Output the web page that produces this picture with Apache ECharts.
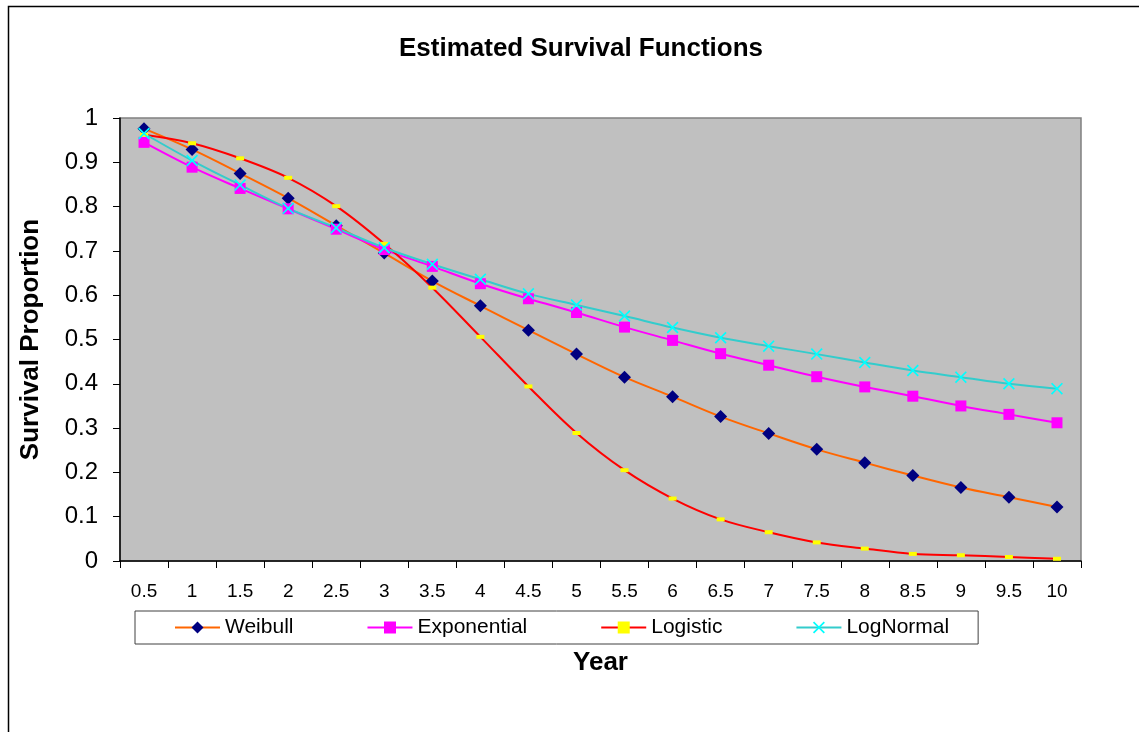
<!DOCTYPE html>
<html>
<head>
<meta charset="utf-8">
<title>Estimated Survival Functions</title>
<script src="https://cdn.jsdelivr.net/npm/echarts@6/dist/echarts.min.js"></script>
<style>
  html, body { margin: 0; padding: 0; background: #ffffff; }
  #chart { width: 1139px; height: 732px; }
</style>
</head>
<body>
<div id="chart"></div>
<script>
// Survival time points (years)
const years = ['0.5', '1', '1.5', '2', '2.5', '3', '3.5', '4', '4.5', '5',
               '5.5', '6', '6.5', '7', '7.5', '8', '8.5', '9', '9.5', '10'];

// Estimated survival proportion for each fitted model
const weibull = [0.976, 0.929, 0.875, 0.819, 0.757, 0.695, 0.632, 0.576, 0.521, 0.467,
                 0.415, 0.371, 0.326, 0.288, 0.252, 0.222, 0.193, 0.166, 0.144, 0.122];
const exponential = [0.945, 0.889, 0.841, 0.795, 0.749, 0.703, 0.665, 0.626, 0.592, 0.561,
                     0.528, 0.498, 0.468, 0.442, 0.416, 0.393, 0.372, 0.350, 0.331, 0.312];
const logistic = [0.962, 0.943, 0.909, 0.865, 0.801, 0.716, 0.617, 0.506, 0.394, 0.289,
                  0.205, 0.141, 0.094, 0.065, 0.042, 0.028, 0.016, 0.013, 0.009, 0.005];
const lognormal = [0.965, 0.904, 0.849, 0.796, 0.752, 0.707, 0.670, 0.636, 0.603, 0.578,
                   0.553, 0.527, 0.504, 0.485, 0.467, 0.448, 0.430, 0.415, 0.400, 0.389];

const FONT = '"Liberation Sans", Arial, sans-serif';
// filled "x" cross shape
const CROSS = 'path://M0,1L1,0L5,4L9,0L10,1L6,5L10,9L9,10L5,6L1,10L0,9L4,5Z';

const chart = echarts.init(document.getElementById('chart'), null, { renderer: 'canvas' });

function lineSeries(name, data, lineColor, symbol, symbolSize, markColor) {
  return {
    name: name,
    type: 'line',
    data: data,
    smooth: 0.35,
    symbol: symbol,
    symbolSize: symbolSize,
    showAllSymbol: true,
    lineStyle: { color: lineColor, width: 2 },
    itemStyle: { color: markColor, borderWidth: 0 },
    emphasis: { disabled: true },
    animation: false
  };
}

chart.setOption({
  animation: false,
  backgroundColor: '#ffffff',
  textStyle: { fontFamily: FONT },
  title: {
    text: 'Estimated Survival Functions',
    left: 576,
    textAlign: 'center',
    top: 31,
    textStyle: { fontFamily: FONT, fontSize: 26, fontWeight: 'bold', color: '#000' }
  },
  graphic: [{
    type: 'rect',
    shape: { x: 8.5, y: 6.5, width: 1200, height: 800 },
    style: { fill: 'none', stroke: '#000', lineWidth: 1.5 },
    silent: true,
    z: -10
  }],
  grid: {
    left: 120, top: 118, right: 58, bottom: 171,
    show: true,
    backgroundColor: '#C0C0C0',
    borderColor: '#808080',
    borderWidth: 1.5
  },
  legend: {
    left: 135,
    top: 611,
    padding: [6, 29, 6, 39],
    itemGap: 73,
    itemWidth: 45,
    itemHeight: 15,
    backgroundColor: '#ffffff',
    borderColor: '#404040',
    borderWidth: 1,
    borderRadius: 0,
    textStyle: { fontFamily: FONT, fontSize: 21, color: '#000' },
    data: ['Weibull', 'Exponential', 'Logistic', 'LogNormal']
  },
  xAxis: {
    type: 'category',
    data: years,
    boundaryGap: true,
    name: 'Year',
    nameLocation: 'middle',
    nameGap: 89,
    nameTextStyle: { fontFamily: FONT, fontSize: 26, fontWeight: 'bold', color: '#000' },
    axisLine: { lineStyle: { color: '#000', width: 1.5 } },
    axisTick: { show: true, length: 7, inside: false, lineStyle: { color: '#000' } },
    axisLabel: { fontFamily: FONT, fontSize: 19, color: '#000', margin: 21, interval: 0 },
    splitLine: { show: false }
  },
  yAxis: {
    type: 'value',
    min: 0,
    max: 1,
    interval: 0.1,
    name: 'Survival Proportion',
    nameLocation: 'middle',
    nameGap: 76,
    nameTextStyle: { fontFamily: FONT, fontSize: 26, fontWeight: 'bold', color: '#000' },
    axisLine: { show: true, lineStyle: { color: '#000', width: 1.5 } },
    axisTick: { show: true, length: 7, lineStyle: { color: '#000' } },
    axisLabel: { fontFamily: FONT, fontSize: 24, color: '#000', margin: 22 },
    splitLine: { show: false }
  },
  series: [
    lineSeries('Weibull', weibull, '#FF6600', 'diamond', 13, '#000080'),
    lineSeries('Exponential', exponential, '#FF00FF', 'rect', 11, '#FF00FF'),
    lineSeries('Logistic', logistic, '#FF0000', 'rect', [8, 4], '#FFFF00'),
    lineSeries('LogNormal', lognormal, '#33CCCC', CROSS, 12, '#00FFFF')
  ]
});
</script>
</body>
</html>
